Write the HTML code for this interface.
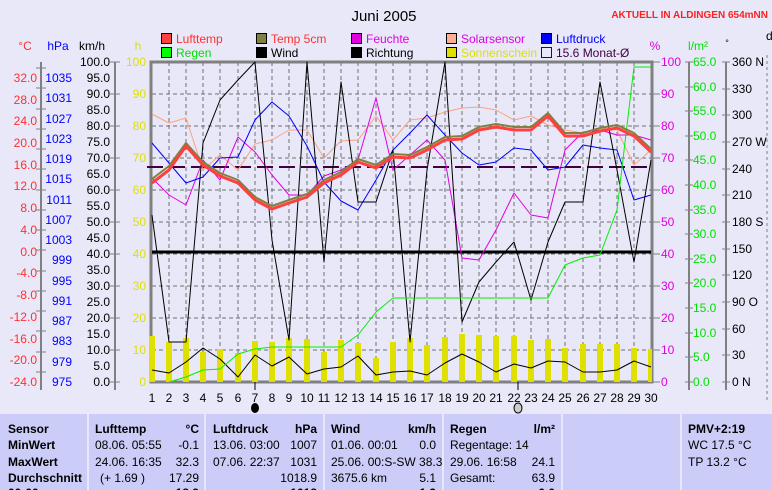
<!DOCTYPE html>
<html><head><meta charset="utf-8"><style>
body{margin:0;background:#e8e8f8;}
svg{display:block;font-family:"Liberation Sans",sans-serif;}
</style></head><body>
<div style="position:relative;width:772px;height:490px;overflow:hidden;background:#e8e8f8">
<svg width="772" height="490" style="position:absolute;left:0;top:0">
<text x="384" y="21" font-size="15" text-anchor="middle">Juni 2005</text>
<text x="768" y="18" font-size="10" font-weight="bold" fill="#ff2020" text-anchor="end">AKTUELL IN ALDINGEN 654mNN</text>
<g font-size="12">
<rect x="161.5" y="33.5" width="10" height="10" fill="#ff4040" stroke="#000"/><text x="176" y="43" fill="#ff3030">Lufttemp</text>
<rect x="256.5" y="33.5" width="10" height="10" fill="#808040" stroke="#000"/><text x="271" y="43" fill="#ff3030">Temp 5cm</text>
<rect x="351.5" y="33.5" width="10" height="10" fill="#e000e0" stroke="#000"/><text x="366" y="43" fill="#e000e0">Feuchte</text>
<rect x="446.5" y="33.5" width="10" height="10" fill="#ffb090" stroke="#000"/><text x="461" y="43" fill="#e000e0">Solarsensor</text>
<rect x="541.5" y="33.5" width="10" height="10" fill="#0000ff" stroke="#000"/><text x="556" y="43" fill="#0000ff">Luftdruck</text>
<rect x="161.5" y="47.5" width="10" height="10" fill="#00ff00" stroke="#000"/><text x="176" y="57" fill="#00e000">Regen</text>
<rect x="256.5" y="47.5" width="10" height="10" fill="#000" stroke="#000"/><text x="271" y="57">Wind</text>
<rect x="351.5" y="47.5" width="10" height="10" fill="#000" stroke="#000"/><text x="366" y="57">Richtung</text>
<rect x="446.5" y="47.5" width="10" height="10" fill="#e0e000" stroke="#000"/><text x="461" y="57" fill="#e0e000">Sonnenschein</text>
<rect x="541.5" y="47.5" width="10" height="10" fill="none" stroke="#400040"/><text x="556" y="57" fill="#400040">15.6 Monat-Ø</text>
</g>
<g font-size="12">
<text x="25" y="50" fill="#ff3030" text-anchor="middle">°C</text>
<text x="58" y="50" fill="#0000ff" text-anchor="middle">hPa</text>
<text x="92" y="50" text-anchor="middle">km/h</text>
<text x="138" y="50" fill="#e0e000" text-anchor="middle">h</text>
<text x="655" y="50" fill="#e000e0" text-anchor="middle">%</text>
<text x="698" y="50" fill="#00e000" text-anchor="middle">l/m²</text>
<text x="727" y="46" font-size="9" text-anchor="middle">°</text>
<text x="766" y="40">d</text>
</g>
<g stroke="#808080" stroke-width="2">
<line x1="41" y1="62" x2="41" y2="390"/>
<line x1="115" y1="62" x2="115" y2="390"/>
<line x1="689" y1="62" x2="689" y2="390"/>
<line x1="726" y1="62" x2="726" y2="390"/>
</g>
<line x1="767" y1="55" x2="767" y2="400" stroke="#808080" stroke-dasharray="3,3"/>
<g stroke="#808080">
<path d="M36 68H46M36 88H46M36 109H46M36 129H46M36 149H46M36 169H46M36 190H46M36 210H46M36 230H46M36 250H46M36 271H46M36 291H46M36 311H46M36 331H46M36 352H46M36 372H46"/>
<path d="M110 62H120M110 94H120M110 126H120M110 158H120M110 190H120M110 222H120M110 254H120M110 286H120M110 318H120M110 350H120M110 382H120"/>
<path d="M685 62H693M685 87H693M685 111H693M685 136H693M685 160H693M685 185H693M685 210H693M685 234H693M685 259H693M685 283H693M685 308H693M685 333H693M685 357H693M685 382H693"/>
<path d="M722 62H730M722 89H730M722 115H730M722 142H730M722 169H730M722 195H730M722 222H730M722 249H730M722 275H730M722 302H730M722 329H730M722 355H730M722 382H730"/>
<path d="M652 62H660M652 94H660M652 126H660M652 158H660M652 190H660M652 222H660M652 254H660M652 286H660M652 318H660M652 350H660M652 382H660"/>
</g>
<g font-size="12" fill="#ff3030" text-anchor="end">
<text x="37" y="82">32.0</text><text x="37" y="104">28.0</text><text x="37" y="125">24.0</text><text x="37" y="147">20.0</text><text x="37" y="169">16.0</text><text x="37" y="190">12.0</text><text x="37" y="212">8.0</text><text x="37" y="234">4.0</text><text x="37" y="256">0.0</text><text x="37" y="277">-4.0</text><text x="37" y="299">-8.0</text><text x="37" y="321">-12.0</text><text x="37" y="343">-16.0</text><text x="37" y="364">-20.0</text><text x="37" y="386">-24.0</text>
</g>
<g font-size="12" fill="#0000ff" text-anchor="end">
<text x="72" y="82">1035</text><text x="72" y="102">1031</text><text x="72" y="123">1027</text><text x="72" y="143">1023</text><text x="72" y="163">1019</text><text x="72" y="183">1015</text><text x="72" y="204">1011</text><text x="72" y="224">1007</text><text x="72" y="244">1003</text><text x="72" y="264">999</text><text x="72" y="285">995</text><text x="72" y="305">991</text><text x="72" y="325">987</text><text x="72" y="345">983</text><text x="72" y="366">979</text><text x="72" y="386">975</text>
</g>
<g font-size="12" text-anchor="end">
<text x="110" y="66">100.0</text><text x="110" y="82">95.0</text><text x="110" y="98">90.0</text><text x="110" y="114">85.0</text><text x="110" y="130">80.0</text><text x="110" y="146">75.0</text><text x="110" y="162">70.0</text><text x="110" y="178">65.0</text><text x="110" y="194">60.0</text><text x="110" y="210">55.0</text><text x="110" y="226">50.0</text><text x="110" y="242">45.0</text><text x="110" y="258">40.0</text><text x="110" y="274">35.0</text><text x="110" y="290">30.0</text><text x="110" y="306">25.0</text><text x="110" y="322">20.0</text><text x="110" y="338">15.0</text><text x="110" y="354">10.0</text><text x="110" y="370">5.0</text><text x="110" y="386">0.0</text>
</g>
<g font-size="12" fill="#e0e000" text-anchor="end">
<text x="146" y="66">100</text><text x="146" y="98">90</text><text x="146" y="130">80</text><text x="146" y="162">70</text><text x="146" y="194">60</text><text x="146" y="226">50</text><text x="146" y="258">40</text><text x="146" y="290">30</text><text x="146" y="322">20</text><text x="146" y="354">10</text><text x="146" y="386">0</text>
</g>
<g font-size="12" fill="#e000e0">
<text x="661" y="66">100</text><text x="661" y="98">90</text><text x="661" y="130">80</text><text x="661" y="162">70</text><text x="661" y="194">60</text><text x="661" y="226">50</text><text x="661" y="258">40</text><text x="661" y="290">30</text><text x="661" y="322">20</text><text x="661" y="354">10</text><text x="661" y="386">0</text>
</g>
<g font-size="12" fill="#00e000">
<text x="693" y="66">65.0</text><text x="693" y="91">60.0</text><text x="693" y="115">55.0</text><text x="693" y="140">50.0</text><text x="693" y="164">45.0</text><text x="693" y="189">40.0</text><text x="693" y="214">35.0</text><text x="693" y="238">30.0</text><text x="693" y="263">25.0</text><text x="693" y="287">20.0</text><text x="693" y="312">15.0</text><text x="693" y="337">10.0</text><text x="693" y="361">5.0</text><text x="693" y="386">0.0</text>
</g>
<g font-size="12">
<text x="732" y="66">360 N</text><text x="732" y="93">330</text><text x="732" y="119">300</text><text x="732" y="146">270 W</text><text x="732" y="173">240</text><text x="732" y="199">210</text><text x="732" y="226">180 S</text><text x="732" y="253">150</text><text x="732" y="279">120</text><text x="732" y="306">90 O</text><text x="732" y="333">60</text><text x="732" y="359">30</text><text x="732" y="386">0 N</text>
</g>
<g stroke="#707070" stroke-dasharray="4,3">
<path d="M152 94H651M152 126H651M152 158H651M152 190H651M152 222H651M152 254H651M152 286H651M152 318H651M152 350H651"/>
<path d="M169 62V382M186 62V382M203 62V382M220 62V382M238 62V382M255 62V382M272 62V382M289 62V382M307 62V382M324 62V382M341 62V382M358 62V382M376 62V382M393 62V382M410 62V382M427 62V382M445 62V382M462 62V382M479 62V382M496 62V382M514 62V382M531 62V382M548 62V382M565 62V382M583 62V382M600 62V382M617 62V382M634 62V382"/>
</g>
<rect x="151" y="62" width="501" height="320" fill="none" stroke="#808080" stroke-width="3"/>
<g fill="#e0e000">
<rect x="149" y="336" width="6" height="46"/><rect x="166" y="342" width="6" height="40"/><rect x="183" y="338" width="6" height="44"/><rect x="200" y="352" width="6" height="30"/><rect x="217" y="349" width="6" height="33"/><rect x="235" y="353" width="6" height="29"/><rect x="252" y="341" width="6" height="41"/><rect x="269" y="342" width="6" height="40"/><rect x="286" y="338" width="6" height="44"/><rect x="304" y="339" width="6" height="43"/><rect x="321" y="352" width="6" height="30"/><rect x="338" y="340" width="6" height="42"/><rect x="355" y="343" width="6" height="39"/><rect x="373" y="358" width="6" height="24"/><rect x="390" y="342" width="6" height="40"/><rect x="407" y="338" width="6" height="44"/><rect x="424" y="345" width="6" height="37"/><rect x="442" y="337" width="6" height="45"/><rect x="459" y="334" width="6" height="48"/><rect x="476" y="335" width="6" height="47"/><rect x="493" y="336" width="6" height="46"/><rect x="511" y="336" width="6" height="46"/><rect x="528" y="340" width="6" height="42"/><rect x="545" y="339" width="6" height="43"/><rect x="562" y="348" width="6" height="34"/><rect x="580" y="344" width="6" height="38"/><rect x="597" y="344" width="6" height="38"/><rect x="614" y="344" width="6" height="38"/><rect x="631" y="348" width="6" height="34"/><rect x="648" y="349" width="4" height="33"/>
</g>
<line x1="152" y1="252" x2="651" y2="252" stroke="#000" stroke-width="3"/>
<line x1="147" y1="167" x2="651" y2="167" stroke="#400040" stroke-width="2" stroke-dasharray="16,6"/>
<g fill="none" stroke-linejoin="round">
<polyline stroke="#ffa080" points="152,114 169,123 186,118 203,170 220,155 238,170 255,144 272,140 289,130 307,130 324,158 341,141 358,140 376,116 393,140 410,120 427,118 445,112 462,108 479,107 496,110 514,120 531,116 548,125 565,130 583,133 600,128 617,130 634,165 651,150"/>
<polyline stroke="#e000e0" points="152,178 169,195 186,205 203,160 220,180 238,137 255,152 272,175 289,195 307,195 324,176 341,170 358,160 376,98 393,170 410,155 427,140 445,160 462,258 479,260 496,230 514,193 531,215 548,218 565,150 583,132 600,130 617,135 634,135 651,140"/>
<polyline stroke="#0000ff" points="152,143 169,163 186,183 203,177 220,158 238,157 255,120 272,102 289,116 307,146 324,182 341,201 358,210 376,180 393,150 410,133 427,115 445,135 462,153 479,165 496,162 514,148 531,150 548,170 565,167 583,145 600,148 617,150 634,200 651,195"/>
<polyline stroke="#000" points="152,215 169,342 186,342 203,143 220,100 238,80 255,62 272,240 289,340 307,62 324,262 341,82 358,202 376,202 393,150 410,342 427,170 445,62 462,322 479,282 496,262 514,242 531,300 548,242 565,202 583,202 600,82 617,170 634,262 651,160"/>
<polyline stroke="#000" points="152,370 169,373 186,362 203,348 220,359 238,377 255,355 272,366 289,357 307,374 324,369 341,367 358,356 376,375 393,372 410,371 427,375 445,363 462,354 479,362 496,372 514,364 531,368 548,361 565,362 583,372 600,372 617,370 634,361 651,367"/>
<polyline stroke="#00f000" points="169,382 186,377 203,370 220,369 238,354 255,349 272,347 341,347 358,335 376,312 393,298 548,298 565,265 583,258 600,255 617,210 630,100 634,67 651,67"/>
<polyline stroke="#808040" stroke-width="2" points="152,179 169,166 186,143 203,162 220,173 238,180 255,197 272,206 289,200 307,194 324,180 341,172 358,159 376,165 393,154 410,155 427,147 445,137 462,136 479,127 496,124 514,127 531,127 548,113 565,133 583,133 600,128 617,125 634,133 651,149"/>
<polyline stroke="#ff4040" stroke-width="3" points="152,183 169,170 186,146 203,165 220,176 238,183 255,200 272,209 289,203 307,197 324,183 341,175 358,162 376,168 393,157 410,158 427,150 445,140 462,139 479,130 496,127 514,130 531,130 548,116 565,136 583,136 600,131 617,128 634,136 651,152"/>
</g>
<g font-size="12" text-anchor="middle">
<text x="152" y="402">1</text><text x="169" y="402">2</text><text x="186" y="402">3</text><text x="203" y="402">4</text><text x="220" y="402">5</text><text x="238" y="402">6</text><text x="255" y="402">7</text><text x="272" y="402">8</text><text x="289" y="402">9</text><text x="307" y="402">10</text><text x="324" y="402">11</text><text x="341" y="402">12</text><text x="358" y="402">13</text><text x="376" y="402">14</text><text x="393" y="402">15</text><text x="410" y="402">16</text><text x="427" y="402">17</text><text x="445" y="402">18</text><text x="462" y="402">19</text><text x="479" y="402">20</text><text x="496" y="402">21</text><text x="514" y="402">22</text><text x="531" y="402">23</text><text x="548" y="402">24</text><text x="565" y="402">25</text><text x="583" y="402">26</text><text x="600" y="402">27</text><text x="617" y="402">28</text><text x="634" y="402">29</text><text x="651" y="402">30</text>
</g>
<path d="M255 382V390M518 382V390" stroke="#000"/>
<ellipse cx="255" cy="408" rx="4" ry="5" fill="#000"/>
<ellipse cx="518" cy="408" rx="4" ry="5" fill="#ccc" stroke="#000"/>
<rect x="0" y="414" width="772" height="76" fill="#ccccf8"/>
<path d="M88 414V490M205 414V490M324 414V490M443 414V490M562 414V490M681 414V490" stroke="#f0f0ff" stroke-width="1.5"/>
<g font-size="12">
<g font-weight="bold"><text x="8" y="433">Sensor</text><text x="8" y="449">MinWert</text><text x="8" y="466">MaxWert</text><text x="8" y="482">Durchschnitt</text><text x="8" y="497">00:00</text>
<text x="95" y="433">Lufttemp</text><text x="199" y="433" text-anchor="end">°C</text>
<text x="213" y="433">Luftdruck</text><text x="317" y="433" text-anchor="end">hPa</text>
<text x="331" y="433">Wind</text><text x="436" y="433" text-anchor="end">km/h</text>
<text x="450" y="433">Regen</text><text x="555" y="433" text-anchor="end">l/m²</text>
<text x="688" y="433">PMV+2:19</text>
<text x="199" y="497" text-anchor="end">18.9</text><text x="317" y="497" text-anchor="end">1018</text><text x="436" y="497" text-anchor="end">1.3</text><text x="555" y="497" text-anchor="end">0.0</text></g>
<text x="95" y="449">08.06.  05:55</text><text x="199" y="449" text-anchor="end">-0.1</text>
<text x="95" y="466">24.06.  16:35</text><text x="199" y="466" text-anchor="end">32.3</text>
<text x="100" y="482">(+ 1.69 )</text><text x="199" y="482" text-anchor="end">17.29</text>
<text x="213" y="449">13.06.  03:00</text><text x="317" y="449" text-anchor="end">1007</text>
<text x="213" y="466">07.06.  22:37</text><text x="317" y="466" text-anchor="end">1031</text>
<text x="317" y="482" text-anchor="end">1018.9</text>
<text x="331" y="449">01.06.  00:01</text><text x="436" y="449" text-anchor="end">0.0</text>
<text x="331" y="466">25.06.  00:S-SW 38.3</text>
<text x="331" y="482">3675.6 km</text><text x="436" y="482" text-anchor="end">5.1</text>
<text x="450" y="449">Regentage: 14</text>
<text x="450" y="466">29.06.  16:58</text><text x="555" y="466" text-anchor="end">24.1</text>
<text x="450" y="482">Gesamt:</text><text x="555" y="482" text-anchor="end">63.9</text>
<text x="688" y="449">WC 17.5 °C</text><text x="688" y="466">TP 13.2 °C</text>
</g>
</svg>
</div>
</body></html>
